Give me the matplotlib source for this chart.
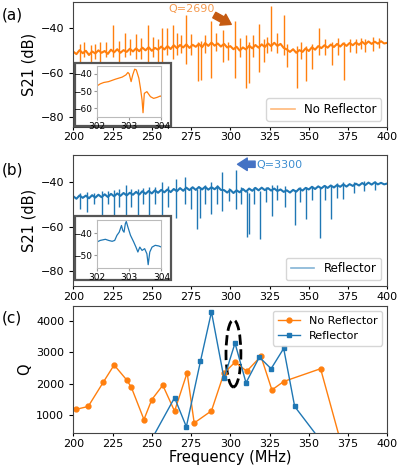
import numpy as np
import matplotlib
matplotlib.use('Agg')
from matplotlib import pyplot as plt
from matplotlib.patches import Rectangle, Ellipse

# --- (a) spectrum without reflector: baseline every 2 MHz + resonance lines
freq_grid = np.arange(200, 401, 2)
base_a = [-50.5, -51.6, -49.8, -51.2, -50.1, -52.0, -50.4, -51.3, -49.9, -51.0,
          -50.2, -51.5, -49.6, -50.8, -49.4, -51.0, -49.8, -50.6, -49.2, -50.4,
          -49.0, -50.3, -48.7, -49.9, -48.5, -50.1, -48.8, -49.6, -48.2, -49.5,
          -48.0, -49.3, -47.6, -48.9, -47.5, -48.6, -47.2, -48.8, -47.4, -48.3,
          -47.0, -48.5, -46.6, -47.9, -46.4, -47.8, -46.8, -48.2, -47.0, -48.6,
          -48.0, -49.4, -48.3, -50.0, -48.6, -49.5, -47.8, -49.0, -47.5, -48.7,
          -47.2, -48.4, -46.8, -48.0, -46.5, -47.9, -47.0, -48.8, -49.5, -50.6,
          -49.4, -51.0, -49.8, -50.6, -49.0, -50.2, -48.5, -49.6, -48.0, -48.9,
          -47.6, -48.7, -47.3, -48.4, -47.0, -48.2, -46.8, -47.9, -46.6, -47.6,
          -46.4, -47.4, -46.1, -47.2, -45.9, -47.0, -46.0, -46.9, -45.8, -46.8,
          -46.5]
res_a_f = [204, 207, 211, 214, 217, 221, 225.3, 229, 233, 236, 240.2, 243, 247.5,
           251, 254, 256.8, 259.5, 263.6, 266, 268.5, 271.8, 275, 279.5, 281.5,
           284, 287.6, 291, 295.2, 298.5, 302.9, 306, 310.3, 311.9, 314.5, 318.3,
           321.5, 323.5, 326.2, 330, 334, 336.3, 342.7, 345, 348, 352.3, 356.7,
           360, 365, 368.5, 372.5, 376, 380, 383, 386, 391, 395]
res_a_lo = [-58, -53, -59, -54, -58, -53, -53, -55, -53, -52, -54, -54, -55,
            -53, -58, -57, -52, -54, -52, -51, -56, -52, -63.5, -63.2,
            -51, -62.5, -50, -55, -54.3, -62.5, -53, -67, -64.8, -53, -59.6,
            -55, -51, -50, -51, -52, -57.5, -66.8, -54, -63.8, -58.5, -52,
            -52, -56.5, -52, -63.3, -50.5, -51, -49.5, -50.5, -50, -49]
res_a_hi = [-47, -46, -47.5, -47, -46, -46, -38.5, -45.5, -42, -45, -42.5, -44.5, -38.5,
            -44, -45, -40, -40, -38.3, -42, -43, -33.8, -42.5, -46, -45.5,
            -43, -36.8, -42, -40.6, -46, -36.5, -44.5, -42.9, -46, -43, -38,
            -45, -44, -29.8, -42, -34, -47, -48, -46, -48, -47, -39.8,
            -45, -46, -44.5, -46, -45, -45, -44.5, -45, -44, -44.5]

# inset (a): zoom around 303 MHz
ins_a_f = [302.0, 302.1, 302.21, 302.36, 302.57, 302.78, 302.9, 302.96, 303.0,
           303.06, 303.11, 303.17, 303.22, 303.3, 303.35, 303.4, 303.43, 303.47,
           303.55, 303.66, 303.76, 303.87, 303.97, 304.0]
ins_a_db = [-47.0, -45.8, -45.0, -44.5, -43.1, -41.9, -40.6, -39.2, -40.0,
            -44.5, -40.6, -37.3, -37.7, -42.5, -48.3, -55.1, -62.5, -51.3,
            -50.3, -53.2, -54.2, -53.6, -52.8, -53.2]

# --- (b) spectrum with reflector
base_b = [-46.3, -47.4, -45.9, -47.0, -46.0, -47.2, -45.8, -46.9, -45.6, -46.7,
          -45.4, -46.6, -45.2, -46.3, -45.0, -46.1, -44.8, -45.9, -44.7, -45.6,
          -44.3, -45.5, -44.0, -45.2, -43.9, -45.0, -43.6, -44.7, -43.4, -44.5,
          -43.2, -44.4, -43.0, -44.0, -42.6, -43.8, -42.4, -43.5, -42.2, -43.4,
          -42.1, -43.2, -42.0, -43.3, -42.2, -43.1, -41.9, -43.4, -43.5, -44.6,
          -43.4, -44.8, -43.6, -44.5, -43.0, -44.2, -42.8, -43.8, -42.5, -43.6,
          -42.4, -43.5, -42.6, -43.7, -42.8, -43.9, -43.2, -44.3, -43.6, -44.6,
          -43.4, -44.2, -42.8, -43.7, -42.5, -43.2, -42.0, -43.0, -41.8, -42.7,
          -41.6, -42.5, -41.4, -42.3, -41.2, -42.0, -40.9, -41.9, -40.8, -41.6,
          -40.6, -41.4, -40.3, -41.2, -40.1, -41.0, -40.0, -40.9, -40.2, -40.9,
          -40.5]
res_b_f = [204, 208.5, 213, 218.3, 222, 225.7, 229, 233.5, 237, 241, 244.5, 248.5,
           252, 256.3, 260, 265.2, 271.2, 275, 278.8, 281, 284, 287.9, 291.5,
           294.9, 299, 303.5, 307, 310.6, 311.9, 315, 318.7, 322.5, 326.3, 330,
           334.6, 341, 344.5, 348, 352, 357.1, 360.5, 363.9, 368, 372, 378.8,
           385, 392]
res_b_lo = [-52, -53.5, -50, -55, -50, -57, -51, -56, -51, -55, -50, -55.5,
            -50, -56, -51, -56, -50, -52, -61, -56, -50, -54.2, -50,
            -53, -48.5, -52, -50, -64.8, -63.3, -50, -65.8, -49, -55, -48,
            -51, -59.5, -49, -56.5, -48, -65.2, -48, -56.5, -47, -47.5, -45,
            -44, -43.5]
res_b_hi = [-45, -44.5, -45, -44, -44, -43.5, -43, -41.4, -43, -43, -42.5, -42,
            -42, -40, -41.5, -38.5, -37.5, -42, -43, -42, -41, -40, -41,
            -35.3, -42.5, -34.5, -42, -44, -45, -42, -44, -42, -41, -41,
            -41.5, -43.5, -42, -42, -41.5, -42, -41, -41.5, -40.5, -40, -40,
            -39.5, -39.2]

ins_b_f = [302.0, 302.1, 302.26, 302.36, 302.47, 302.55, 302.62, 302.69, 302.76,
           302.8, 302.84, 302.88, 302.91, 302.96, 303.04, 303.14, 303.21, 303.27,
           303.33, 303.4, 303.48, 303.55, 303.59, 303.64, 303.71, 303.81, 303.92,
           304.0]
ins_b_db = [-44.0, -43.3, -42.8, -43.3, -43.7, -43.3, -41.0, -39.6, -36.6,
            -38.8, -39.6, -35.8, -34.8, -37.3, -41.0, -44.0, -46.3, -48.5,
            -46.3, -47.8, -47.0, -49.3, -54.2, -48.5, -46.3, -45.5, -45.8,
            -46.3]

# --- (c) quality factor vs frequency
q_no_f = [202, 209.5, 219, 226, 234, 237, 245, 250, 257, 264.5, 272.5, 277,
          288, 296, 303, 310.5, 319.5, 326.5, 334, 357.5, 370.5]
q_no = [1180, 1270, 2040, 2600, 2120, 1880, 850, 1490, 1950, 1120, 2350, 740,
        1130, 2340, 2690, 2400, 2880, 1800, 2070, 2480, 100]
q_re_f = [249.5, 264.5, 272, 281, 288, 296, 303, 310, 318.5, 326, 334, 341, 357.5]
q_re = [180, 1550, 620, 2720, 4300, 2170, 3300, 2030, 2850, 2480, 3130, 1270, 180]

orange = '#ff7f0e'
blue = '#1f77b4'
xticks = [200, 225, 250, 275, 300, 325, 350, 375, 400]

plt.rcParams['font.family'] = 'DejaVu Sans'
fig = plt.figure(figsize=(3.99, 4.66), dpi=100)
ax_a = fig.add_axes([0.1837, 0.7281, 0.787, 0.2682])
ax_b = fig.add_axes([0.1837, 0.3863, 0.787, 0.2811])
ax_c = fig.add_axes([0.1837, 0.0702, 0.787, 0.2738])


def style_axes(ax):
    ax.set_xlim(200, 400)
    ax.set_xticks(xticks)
    ax.tick_params(labelsize=8, length=3)
    ax.tick_params(axis='x', pad=1.5, length=2.5)
    for s in ax.spines.values():
        s.set_color('#444444')


def spectrum(ax, base, rf, rlo, rhi, color, label, ylim):
    ax.plot(freq_grid, base, color=color, lw=1.5, label=label)
    ax.vlines(rf, rlo, rhi, color=color, lw=1.0)
    style_axes(ax)
    ax.set_ylim(*ylim)
    ax.set_yticks([-80, -60, -40])
    ax.set_ylabel('S21 (dB)', fontsize=10.5, labelpad=3)
    leg = ax.legend(loc='lower right', fontsize=8.5)
    leg.get_lines()[0].set_alpha(0.55)
    leg.get_lines()[0].set_linewidth(1.2)


def inset(ax, box, pos, f, db, color, ylim, yticks):
    ax.add_patch(Rectangle((box[0], box[1]), box[2], box[3], transform=ax.transAxes,
                           facecolor='white', edgecolor='#555555', lw=1.6,
                           zorder=4, clip_on=False))
    ia = ax.inset_axes(pos)
    ia.plot(f, db, color=color, lw=0.9)
    ia.set_xlim(302, 304)
    ia.set_ylim(*ylim)
    ia.set_xticks([302, 303, 304])
    ia.set_yticks(yticks)
    ia.tick_params(labelsize=6.5, length=2, pad=1.5, color='#999999')
    for s in ia.spines.values():
        s.set_color('#bbbbbb')


arrow_style = 'simple,head_width=0.9,head_length=0.7,tail_width=0.45'

spectrum(ax_a, base_a, res_a_f, res_a_lo, res_a_hi, orange, 'No Reflector', (-84.3, -28.0))
inset(ax_a, (0.006, 0.005, 0.306, 0.502), [0.0755, 0.08, 0.205, 0.408],
      ins_a_f, ins_a_db, orange, (-64.8, -35.3), [-60, -50, -40])
ax_a.text(275.4, -31.2, 'Q=2690', color='#f59a4f', fontsize=8, ha='center', va='center')
ax_a.annotate('', xy=(300.6, -38.2), xytext=(289.8, -34.0),
              arrowprops=dict(arrowstyle=arrow_style, color='#c55a11',
                              shrinkA=0, shrinkB=0))

spectrum(ax_b, base_b, res_b_f, res_b_lo, res_b_hi, blue, 'Reflector', (-86.9, -27.6))
inset(ax_b, (0.006, 0.0435, 0.306, 0.4885), [0.0755, 0.137, 0.205, 0.369],
      ins_b_f, ins_b_db, blue, (-55.7, -34.0), [-50, -40])
ax_b.text(316.9, -32.0, 'Q=3300', color='#3c8dd0', fontsize=8, ha='left', va='center')
ax_b.annotate('', xy=(304.6, -31.8), xytext=(315.8, -31.8),
              arrowprops=dict(arrowstyle=arrow_style, color='#4472c4',
                              shrinkA=0, shrinkB=0))

ax_c.plot(q_no_f, q_no, color=orange, marker='o', ms=3.5, lw=1, label='No Reflector')
ax_c.plot(q_re_f, q_re, color=blue, marker='s', ms=3.5, lw=1, label='Reflector')
ax_c.add_patch(Ellipse((302, 2970), 9.5, 2150, fill=False, ls='--', lw=2, color='black'))
style_axes(ax_c)
ax_c.set_ylim(410, 4500)
ax_c.set_yticks([1000, 2000, 3000, 4000])
ax_c.set_xlabel('Frequency (MHz)', fontsize=10.5, labelpad=0.5)
ax_c.set_ylabel('Q', fontsize=10.5, labelpad=3)
ax_c.legend(loc='upper right', fontsize=8)

fig.text(0.005, 0.968, '(a)', fontsize=11, va='center')
fig.text(0.005, 0.635, '(b)', fontsize=11, va='center')
fig.text(0.005, 0.318, '(c)', fontsize=11, va='center')

fig.savefig('out.png', dpi=100)
